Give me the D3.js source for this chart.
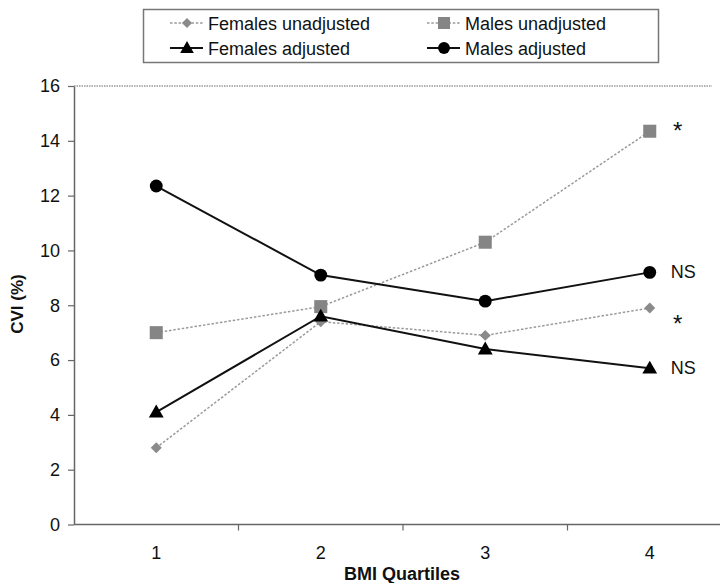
<!DOCTYPE html>
<html>
<head>
<meta charset="utf-8">
<script src="https://cdn.jsdelivr.net/npm/d3@7"></script>
<style>
  body { margin: 0; background: #fff; }
  svg { display: block; font-family: "Liberation Sans", Arial, sans-serif; }
</style>
</head>
<body>
<svg id="chart" width="720" height="583"></svg>
<script>
// ---- data ----
const categories = ["1", "2", "3", "4"];
const femalesUnadjusted = [2.8, 7.4, 6.9, 7.9];
const malesUnadjusted = [7.0, 7.95, 10.3, 14.35];
const femalesAdjusted = [4.1, 7.6, 6.4, 5.7];
const malesAdjusted = [12.35, 9.1, 8.15, 9.2];
const seriesNames = ["Females unadjusted", "Males unadjusted", "Females adjusted", "Males adjusted"];
const significance = ["*", "*", "NS", "NS"];
const yTicks = [0, 2, 4, 6, 8, 10, 12, 14, 16];
const xTitle = "BMI Quartiles";
const yTitle = "CVI (%)";

// ---- setup ----
const svg = d3.select("#chart");
const x = d3.scaleBand().domain(categories).range([74, 732]);
const y = d3.scaleLinear().domain([0, 16]).range([524.5, 86]);
const cx = c => x(c) + x.bandwidth() / 2;

const series = [
  {name: seriesNames[0], values: femalesUnadjusted, sym: d3.symbolSquare, rot: 45, size: 60, color: "#8a8a8a", lineColor: "#9a9a9a", dash: "2.5,1.8", width: 1.5, sig: significance[0]},
  {name: seriesNames[1], values: malesUnadjusted, sym: d3.symbolSquare, rot: 0, size: 170, color: "#858585", lineColor: "#9a9a9a", dash: "2.5,1.8", width: 1.5, sig: significance[1]},
  {name: seriesNames[2], values: femalesAdjusted, sym: d3.symbolTriangle, rot: 0, size: 95, color: "#000", lineColor: "#111", dash: null, width: 2, sig: significance[2]},
  {name: seriesNames[3], values: malesAdjusted, sym: d3.symbolCircle, rot: 0, size: 130, color: "#000", lineColor: "#111", dash: null, width: 2, sig: significance[3]}
];

// top border (dotted)
svg.append("line")
  .attr("x1", x.range()[0]).attr("x2", 712)
  .attr("y1", y(16)).attr("y2", y(16))
  .attr("stroke", "#999").attr("stroke-width", 1.5).attr("stroke-dasharray", "1.5,1");

// y axis
const yAxis = svg.append("g")
  .attr("transform", `translate(${x.range()[0]},0)`)
  .call(d3.axisLeft(y).tickValues(yTicks).tickSize(6).tickPadding(8).tickSizeOuter(0));
yAxis.select(".domain").attr("stroke", "#666").attr("stroke-width", 1.5);
yAxis.selectAll(".tick line").attr("stroke", "#666").attr("stroke-width", 1.2);
yAxis.selectAll(".tick text").attr("font-size", 18).attr("fill", "#111")
  .attr("font-family", "'Liberation Sans', Arial, sans-serif");

// x axis
const xg = svg.append("g").attr("transform", `translate(0,${y(0)})`);
xg.append("line").attr("x1", x.range()[0]).attr("x2", 720)
  .attr("stroke", "#666").attr("stroke-width", 1.5);
xg.selectAll(".xt").data(categories.slice(1)).enter().append("line")
  .attr("x1", d => x(d)).attr("x2", d => x(d)).attr("y1", 0).attr("y2", 6)
  .attr("stroke", "#666").attr("stroke-width", 1.2);
xg.selectAll(".xl").data(categories).enter().append("text")
  .attr("x", d => cx(d)).attr("y", 34).attr("text-anchor", "middle")
  .attr("font-size", 18).attr("fill", "#111").text(d => d);

// axis titles
svg.append("text").attr("x", 402).attr("y", 580).attr("text-anchor", "middle")
  .attr("font-size", 18).attr("font-weight", "bold").attr("fill", "#111").text(xTitle);
svg.append("text").attr("transform", "translate(23,304) rotate(-90)").attr("text-anchor", "middle")
  .attr("font-size", 17).attr("font-weight", "bold").attr("fill", "#111").text(yTitle);

// lines
const line = d3.line().x((d, i) => cx(categories[i])).y(d => y(d));
series.forEach(s => {
  svg.append("path").datum(s.values).attr("d", line)
    .attr("fill", "none").attr("stroke", s.lineColor).attr("stroke-width", s.width)
    .attr("stroke-dasharray", s.dash);
});
// markers
series.forEach(s => {
  svg.append("g").selectAll("path").data(s.values).enter().append("path")
    .attr("d", d3.symbol().type(s.sym).size(s.size))
    .attr("transform", (d, i) => `translate(${cx(categories[i])},${y(d) + (s.sym === d3.symbolTriangle ? 1 : 0)}) rotate(${s.rot})`)
    .attr("fill", s.color);
});
// significance labels
series.forEach(s => {
  const v = s.values[s.values.length - 1];
  const isStar = s.sig === "*";
  svg.append("text")
    .attr("x", cx(categories[categories.length - 1]) + (isStar ? 28 : 21))
    .attr("y", y(v) + (isStar ? (s.name === seriesNames[0] ? 24 : 8) : 6))
    .attr("text-anchor", isStar ? "middle" : "start")
    .attr("font-size", isStar ? 24 : 18).attr("fill", "#111").text(s.sig);
});

// legend
const lg = svg.append("g");
lg.append("rect").attr("x", 143.5).attr("y", 9.5).attr("width", 515).attr("height", 53)
  .attr("fill", "#fff").attr("stroke", "#777").attr("stroke-width", 1.5);
const legendPos = [[170, 23], [427, 23], [170, 48], [427, 48]];
series.forEach((s, i) => {
  const [lx, ly] = legendPos[i];
  lg.append("line").attr("x1", lx).attr("x2", lx + 33).attr("y1", ly).attr("y2", ly)
    .attr("stroke", s.lineColor).attr("stroke-width", s.width).attr("stroke-dasharray", s.dash);
  lg.append("path").attr("d", d3.symbol().type(s.sym).size(s.size * 0.85))
    .attr("transform", `translate(${lx + 17},${ly + (s.sym === d3.symbolTriangle ? 1 : 0)}) rotate(${s.rot})`).attr("fill", s.color);
  lg.append("text").attr("x", lx + 38).attr("y", ly + 6.5).attr("font-size", 18).attr("fill", "#111").text(s.name);
});
</script>
</body>
</html>
